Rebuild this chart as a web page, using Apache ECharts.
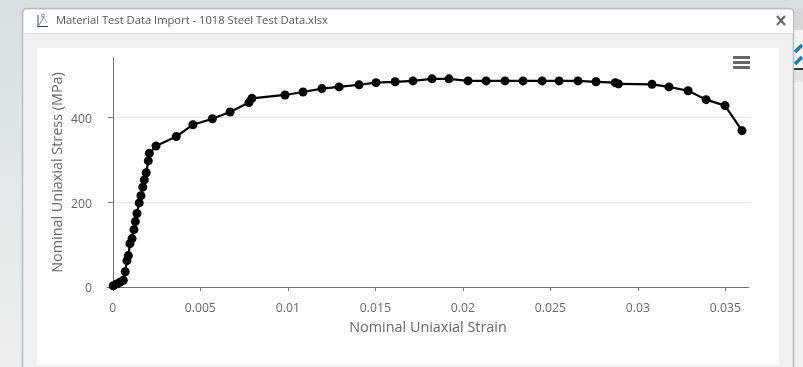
<!DOCTYPE html>
<html>
<head>
<meta charset="utf-8">
<style>html,body{margin:0;padding:0;background:#e6ebed}#c{width:803px;height:367px}</style>
<script src="https://cdn.jsdelivr.net/npm/echarts@6/dist/echarts.min.js"></script>
</head>
<body>
<div id="c"></div>
<script>
const windowTitle = 'Material Test Data Import - 1018 Steel Test Data.xlsx';
const xAxisName = 'Nominal Uniaxial Strain';
const yAxisName = 'Nominal Uniaxial Stress (MPa)';
const xTicks = [0, 0.005, 0.01, 0.015, 0.02, 0.025, 0.03, 0.035];
const yTicks = [0, 200, 400];
const strain = [0.00003,0.00022,0.00041,0.0006,0.00071,0.00081,0.00089,0.00098,0.0011,0.00121,0.00129,0.00138,0.00151,0.00161,0.00171,0.0018,0.00191,0.00203,0.00209,0.00247,0.00363,0.00458,0.00569,0.0067,0.00778,0.00795,0.00984,0.01087,0.01195,0.01293,0.01407,0.01504,0.01613,0.01715,0.01824,0.01921,0.0203,0.02133,0.02241,0.02344,0.02453,0.0255,0.02658,0.02761,0.02871,0.02889,0.03081,0.03178,0.03287,0.0339,0.03498,0.03595];
const stress = [3,7,11,16,36,62,74,102,114,135,154,173,198,215,235,252,269,297,315,332,354,382,396,412,434,444,452,459,467,471,476,481,483,485,490,490,485,485,485,485,485,485,485,483,481,478,477,471,462,441,427,368];

const font = '"Open Sans", "Noto Sans", sans-serif';
const chart = echarts.init(document.getElementById('c'), null, {renderer: 'canvas'});
const rect = (x, y, w, h, fill, extra) => Object.assign({type: 'rect', z: -10, silent: true, shape: {x, y, width: w, height: h}, style: {fill}}, extra || {});
const line = (x1, y1, x2, y2, stroke, lw) => ({type: 'line', z: -9, silent: true, shape: {x1, y1, x2, y2}, style: {stroke, lineWidth: lw}});

chart.setOption({
  animation: false,
  backgroundColor: 'transparent',
  graphic: {elements: [
    {type: 'rect', z: -12, silent: true, shape: {x: 0, y: 0, width: 803, height: 367},
      style: {fill: new echarts.graphic.LinearGradient(0, 0, 0, 1, [{offset: 0, color: '#d7dfe3'}, {offset: 1, color: '#eaeef0'}])}},
    rect(794, 9, 9, 21, '#d4d8d9'),
    rect(794, 30, 9, 38, '#f2f3f3'),
    rect(794, 68, 9, 2, '#3a3a3a'),
    rect(794, 70, 9, 12, '#e3e3e3'),
    rect(794, 82, 9, 285, '#f1f1f1'),
    line(795, 52, 802, 45, '#1f7ea8', 3.5),
    line(795, 64, 802, 57, '#1f7ea8', 3.5),
    rect(22.5, 8.5, 771, 370, '#f0f0f0', {shape: {x: 22.5, y: 8.5, width: 771, height: 370, r: 4}, style: {fill: '#f0f0f0', stroke: '#b9bcbd', lineWidth: 1.5}}),
    rect(24, 10, 769, 23, '#ffffff', {shape: {x: 24, y: 10, width: 769, height: 23, r: [3, 3, 0, 0]}}),
    line(24, 33.5, 793, 33.5, '#dcdcdc', 1),
    rect(37, 48, 742, 317, '#ffffff'),
    line(38, 15, 38, 27, '#444', 1),
    line(37, 26.5, 48, 26.5, '#444', 1),
    line(39, 25, 44, 17, '#3f8fc4', 1),
    line(44, 17, 47, 23, '#8ab6d4', 1),
    {type: 'circle', z: -9, silent: true, shape: {cx: 43, cy: 15.5, r: 1.5}, style: {fill: '#fff', stroke: '#666', lineWidth: 0.8}},
    {type: 'text', z: -9, silent: true, x: 56, y: 21, style: {text: windowTitle, font: '11.2px ' + font, fill: '#555', textVerticalAlign: 'middle'}},
    line(777, 16, 785, 25, '#666', 2),
    line(785, 16, 777, 25, '#666', 2),
    {type: 'rect', z: 5, silent: true, shape: {x: 733, y: 56, width: 17, height: 3}, style: {fill: '#666'}},
    {type: 'rect', z: 5, silent: true, shape: {x: 733, y: 61, width: 17, height: 3}, style: {fill: '#666'}},
    {type: 'rect', z: 5, silent: true, shape: {x: 733, y: 66, width: 17, height: 3}, style: {fill: '#666'}}
  ]},
  grid: {left: 107, right: 54, top: 58, bottom: 80, containLabel: false},
  xAxis: {
    type: 'value', min: -0.00033, max: 0.03635,
    name: xAxisName, nameLocation: 'middle', nameGap: 34, nameMoveOverlap: false,
    nameTextStyle: {color: '#666', fontFamily: font, fontSize: 14.4},
    axisLine: {show: true, onZero: false, lineStyle: {color: '#707070', width: 1}},
    axisTick: {show: true, length: 4, customValues: xTicks, lineStyle: {color: '#707070'}},
    axisLabel: {show: true, customValues: xTicks, margin: 16, color: '#666', fontFamily: font, fontSize: 12.2,
      showMinLabel: true, showMaxLabel: true, hideOverlap: false, formatter: v => String(v)},
    splitLine: {show: false}
  },
  yAxis: {
    type: 'value', min: 0, max: 539,
    name: yAxisName, nameLocation: 'middle', nameGap: 42, nameMoveOverlap: false,
    nameTextStyle: {color: '#666', fontFamily: font, fontSize: 14.4},
    axisLine: {show: true, lineStyle: {color: '#707070', width: 1}},
    axisTick: {show: true, length: 5, customValues: yTicks, lineStyle: {color: '#707070'}},
    axisLabel: {show: true, customValues: yTicks, margin: 15, color: '#666', fontFamily: font, fontSize: 12.2,
      verticalAlign: 'top', lineHeight: 4, formatter: v => String(v)},
    splitLine: {show: true, lineStyle: {color: '#e6e6e6', width: 1}}
  },
  series: [{
    type: 'line',
    data: strain.map((x, i) => [x, stress[i]]),
    clip: false,
    symbol: 'circle', symbolSize: 9, showSymbol: true, showAllSymbols: true,
    lineStyle: {color: '#000', width: 2.2},
    itemStyle: {color: '#000'},
    z: 3
  }]
});
</script>
</body>
</html>
